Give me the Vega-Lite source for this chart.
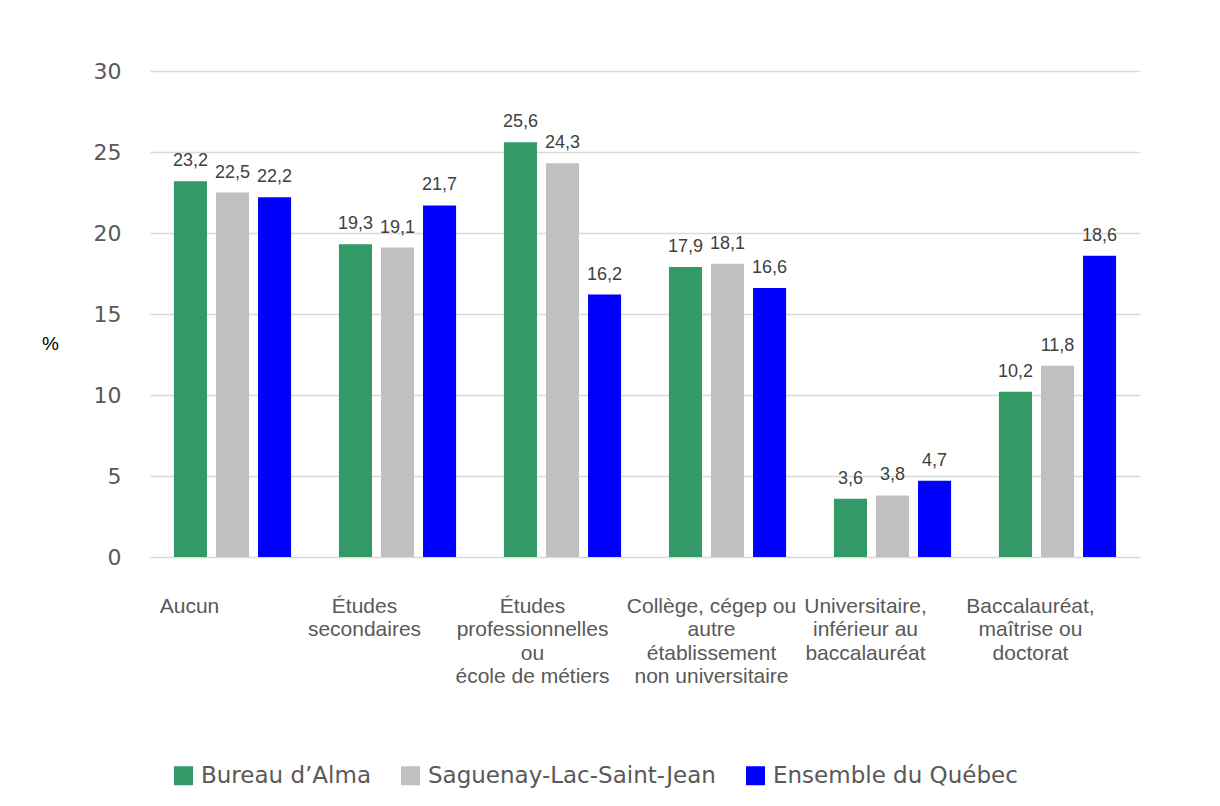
{
  "$schema": "https://vega.github.io/schema/vega-lite/v6.json",
  "width": 990,
  "height": 486,
  "autosize": "none",
  "padding": {"left": 150, "top": 71, "right": 80, "bottom": 249},
  "background": "white",
  "config": {
    "locale": {"number": {"decimal": ",", "thousands": " ", "grouping": [3], "currency": ["", " $"]}},
    "view": {"stroke": null}
  },
  "data": {
    "values": [
      {"niveau": "Aucun", "territoire": "Bureau d’Alma", "pct": 23.2},
      {"niveau": "Aucun", "territoire": "Saguenay-Lac-Saint-Jean", "pct": 22.5},
      {"niveau": "Aucun", "territoire": "Ensemble du Québec", "pct": 22.2},
      {"niveau": "Études secondaires", "territoire": "Bureau d’Alma", "pct": 19.3},
      {"niveau": "Études secondaires", "territoire": "Saguenay-Lac-Saint-Jean", "pct": 19.1},
      {"niveau": "Études secondaires", "territoire": "Ensemble du Québec", "pct": 21.7},
      {"niveau": "Études professionnelles ou école de métiers", "territoire": "Bureau d’Alma", "pct": 25.6},
      {"niveau": "Études professionnelles ou école de métiers", "territoire": "Saguenay-Lac-Saint-Jean", "pct": 24.3},
      {"niveau": "Études professionnelles ou école de métiers", "territoire": "Ensemble du Québec", "pct": 16.2},
      {"niveau": "Collège, cégep ou autre établissement non universitaire", "territoire": "Bureau d’Alma", "pct": 17.9},
      {"niveau": "Collège, cégep ou autre établissement non universitaire", "territoire": "Saguenay-Lac-Saint-Jean", "pct": 18.1},
      {"niveau": "Collège, cégep ou autre établissement non universitaire", "territoire": "Ensemble du Québec", "pct": 16.6},
      {"niveau": "Universitaire, inférieur au baccalauréat", "territoire": "Bureau d’Alma", "pct": 3.6},
      {"niveau": "Universitaire, inférieur au baccalauréat", "territoire": "Saguenay-Lac-Saint-Jean", "pct": 3.8},
      {"niveau": "Universitaire, inférieur au baccalauréat", "territoire": "Ensemble du Québec", "pct": 4.7},
      {"niveau": "Baccalauréat, maîtrise ou doctorat", "territoire": "Bureau d’Alma", "pct": 10.2},
      {"niveau": "Baccalauréat, maîtrise ou doctorat", "territoire": "Saguenay-Lac-Saint-Jean", "pct": 11.8},
      {"niveau": "Baccalauréat, maîtrise ou doctorat", "territoire": "Ensemble du Québec", "pct": 18.6}
    ]
  },
  "encoding": {
    "x": {
      "field": "niveau",
      "type": "nominal",
      "sort": null,
      "scale": {"paddingInner": 0.29, "paddingOuter": 0.145},
      "axis": {
        "title": null,
        "domain": false,
        "ticks": false,
        "labelAngle": 0,
        "labelFont": "Liberation Sans",
        "labelFontSize": 21,
        "labelColor": "#595959",
        "labelLineHeight": 23.5,
        "labelPadding": 38,
        "labelBaseline": "top",
        "labelLimit": 0,
        "labelOffset": {
          "condition": [
            {"test": "datum.value === 'Aucun'", "value": -43},
            {"test": "datum.value === 'Études secondaires'", "value": -33},
            {"test": "datum.value === 'Études professionnelles ou école de métiers'", "value": -30},
            {"test": "datum.value === 'Collège, cégep ou autre établissement non universitaire'", "value": -16}
          ],
          "value": -27
        },
        "labelExpr": "{'Aucun': ['Aucun'], 'Études secondaires': ['Études', 'secondaires'], 'Études professionnelles ou école de métiers': ['Études', 'professionnelles', 'ou', 'école de métiers'], 'Collège, cégep ou autre établissement non universitaire': ['Collège, cégep ou', 'autre', 'établissement', 'non universitaire'], 'Universitaire, inférieur au baccalauréat': ['Universitaire,', 'inférieur au', 'baccalauréat'], 'Baccalauréat, maîtrise ou doctorat': ['Baccalauréat,', 'maîtrise ou', 'doctorat']}[datum.value]"
      }
    },
    "xOffset": {
      "field": "territoire",
      "type": "nominal",
      "sort": ["Bureau d’Alma", "Saguenay-Lac-Saint-Jean", "Ensemble du Québec"],
      "scale": {"paddingInner": 0.214, "paddingOuter": 0}
    },
    "y": {
      "field": "pct",
      "type": "quantitative",
      "scale": {"domain": [0, 30], "nice": false},
      "axis": {
        "values": [0, 5, 10, 15, 20, 25, 30],
        "grid": true,
        "gridColor": "#d9d9d9",
        "gridWidth": 1.5,
        "domain": false,
        "ticks": false,
        "labelFont": "DejaVu Sans",
        "labelFontSize": 22,
        "labelColor": "#595959",
        "labelPadding": 29,
        "title": "%",
        "titleAngle": 0,
        "titleX": -100,
        "titleY": 272,
        "titleAlign": "center",
        "titleBaseline": "middle",
        "titleFont": "Liberation Sans",
        "titleFontSize": 19,
        "titleFontWeight": "normal",
        "titleColor": "#000000"
      }
    }
  },
  "layer": [
    {
      "mark": {"type": "bar"},
      "encoding": {
        "color": {
          "field": "territoire",
          "type": "nominal",
          "scale": {
            "domain": ["Bureau d’Alma", "Saguenay-Lac-Saint-Jean", "Ensemble du Québec"],
            "range": ["#339966", "#c0c0c0", "#0000ff"]
          },
          "legend": {
            "title": null,
            "orient": "none",
            "legendX": 22,
            "legendY": 693,
            "direction": "horizontal",
            "symbolType": "square",
            "symbolSize": 361,
            "symbolStrokeWidth": 0,
            "labelFont": "DejaVu Sans",
            "labelFontSize": 23,
            "labelColor": "#595959",
            "labelOffset": 6,
            "columnPadding": 28,
            "labelLimit": 0
          }
        }
      }
    },
    {
      "mark": {"type": "text", "baseline": "alphabetic", "dy": -15, "font": "Liberation Sans", "fontSize": 18, "color": "#404040"},
      "encoding": {
        "text": {"field": "pct", "type": "quantitative", "format": ".1f"}
      }
    }
  ]
}
